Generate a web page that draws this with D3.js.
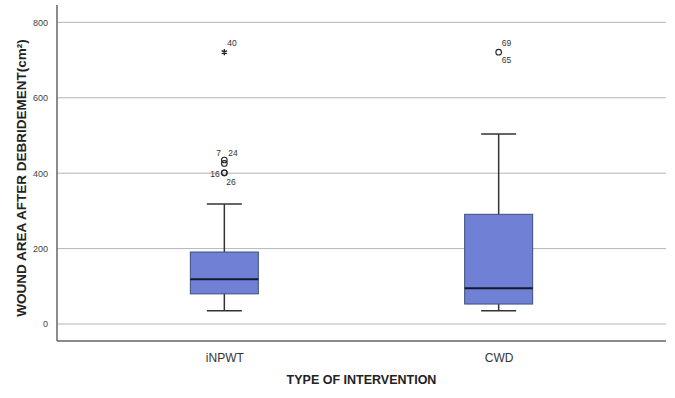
<!DOCTYPE html>
<html>
<head>
<meta charset="utf-8">
<script src="https://cdn.jsdelivr.net/npm/d3@7"></script>
<style>
  body { margin: 0; background: #fff; }
  text { font-family: "Liberation Sans", Arial, sans-serif; }
</style>
</head>
<body>
<svg id="chart" width="675" height="398"></svg>
<script>
// data
var groups = ["iNPWT", "CWD"];
var whiskerLow = [35, 35];
var q1 = [80, 53];
var median = [119, 95];
var q3 = [191, 291];
var whiskerHigh = [318, 504];

// outliers: group, value, kind
var outGroup = ["iNPWT", "iNPWT", "iNPWT", "iNPWT", "iNPWT", "CWD"];
var outValue = [721, 435, 426, 401, 401, 721];
var outKind = ["star", "circle", "circle", "circle", "circle", "circle"];
var outLabels = [
  {g: "iNPWT", v: 721, t: "40", dx: 3, dy: -6},
  {g: "iNPWT", v: 435, t: "7", dx: -8, dy: -4},
  {g: "iNPWT", v: 435, t: "24", dx: 4, dy: -4},
  {g: "iNPWT", v: 401, t: "16", dx: -14, dy: 4},
  {g: "iNPWT", v: 401, t: "26", dx: 2, dy: 12},
  {g: "CWD", v: 721, t: "69", dx: 3, dy: -6},
  {g: "CWD", v: 721, t: "65", dx: 3, dy: 11}
];
var yTicks = [0, 200, 400, 600, 800];

var svg = d3.select("#chart");
var plotL = 57, plotR = 666, plotT = 5, plotB = 341;

//scales
var x = d3.scalePoint()
    .domain(groups)
    .range([plotL, plotR])
    .padding(0.61);

var y = d3.scaleLinear()
    .domain([-45, 846])
    .range([plotB, plotT]);

var boxW = 68, capW = 35;

//grid lines
svg.append("g")
    .selectAll("line")
    .data(yTicks)
    .enter().append("line")
    .attr("x1", plotL).attr("x2", plotR)
    .attr("y1", function(d) { return y(d); })
    .attr("y2", function(d) { return y(d); })
    .attr("stroke", "#b4b4b4")
    .attr("stroke-width", 1);

//y axis
var yAxis = d3.axisLeft(y).tickValues(yTicks).tickSize(0).tickPadding(9);
var gy = svg.append("g")
    .attr("transform", "translate(" + plotL + ",0)")
    .call(yAxis);
gy.select(".domain").remove();
gy.selectAll("text")
    .style("font-size", "9px")
    .attr("fill", "#444");

//x axis
var xAxis = d3.axisBottom(x).tickSize(0).tickPadding(12);
var gx = svg.append("g")
    .attr("transform", "translate(0," + plotB + ")")
    .call(xAxis);
gx.select(".domain").remove();
gx.selectAll("text")
    .style("font-size", "12px")
    .attr("fill", "#333");

//frame lines
svg.append("line")
    .attr("x1", plotL).attr("x2", plotL)
    .attr("y1", plotT).attr("y2", plotB)
    .attr("stroke", "#666").attr("stroke-width", 1.5);
svg.append("line")
    .attr("x1", plotL).attr("x2", plotR)
    .attr("y1", plotB).attr("y2", plotB)
    .attr("stroke", "#666").attr("stroke-width", 1.5);

//boxes
var boxes = svg.append("g")
    .selectAll("g")
    .data(groups)
    .enter().append("g");

boxes.append("line")
    .attr("x1", function(d) { return x(d); })
    .attr("x2", function(d) { return x(d); })
    .attr("y1", function(d, i) { return y(whiskerHigh[i]); })
    .attr("y2", function(d, i) { return y(whiskerLow[i]); })
    .attr("stroke", "#333").attr("stroke-width", 1.5);

boxes.selectAll(".cap")
    .data(function(d, i) { return [[d, whiskerLow[i]], [d, whiskerHigh[i]]]; })
    .enter().append("line")
    .attr("class", "cap")
    .attr("x1", function(d) { return x(d[0]) - capW / 2; })
    .attr("x2", function(d) { return x(d[0]) + capW / 2; })
    .attr("y1", function(d) { return y(d[1]); })
    .attr("y2", function(d) { return y(d[1]); })
    .attr("stroke", "#333").attr("stroke-width", 1.5);

boxes.append("rect")
    .attr("x", function(d) { return x(d) - boxW / 2; })
    .attr("width", boxW)
    .attr("y", function(d, i) { return y(q3[i]); })
    .attr("height", function(d, i) { return y(q1[i]) - y(q3[i]); })
    .attr("fill", "#7080d4")
    .attr("stroke", "#3c4f7c")
    .attr("stroke-width", 1);

boxes.append("line")
    .attr("x1", function(d) { return x(d) - boxW / 2; })
    .attr("x2", function(d) { return x(d) + boxW / 2; })
    .attr("y1", function(d, i) { return y(median[i]); })
    .attr("y2", function(d, i) { return y(median[i]); })
    .attr("stroke", "#101830").attr("stroke-width", 2);

//outliers
var outs = outGroup.map(function(g, i) { return {g: g, v: outValue[i], k: outKind[i]}; });

svg.append("g")
    .selectAll("circle")
    .data(outs.filter(function(d) { return d.k === "circle"; }))
    .enter().append("circle")
    .attr("cx", function(d) { return x(d.g); })
    .attr("cy", function(d) { return y(d.v); })
    .attr("r", 2.8)
    .attr("fill", "none")
    .attr("stroke", "#222")
    .attr("stroke-width", 1.1);

svg.append("g")
    .selectAll("path")
    .data(outs.filter(function(d) { return d.k === "star"; }))
    .enter().append("path")
    .attr("transform", function(d) { return "translate(" + x(d.g) + "," + y(d.v) + ")"; })
    .attr("d", d3.symbol(d3.symbolAsterisk, 26))
    .attr("stroke", "#222")
    .attr("stroke-width", 1.3)
    .attr("fill", "none");

svg.append("g")
    .selectAll("text")
    .data(outLabels)
    .enter().append("text")
    .attr("x", function(d) { return x(d.g) + d.dx; })
    .attr("y", function(d) { return y(d.v) + d.dy; })
    .style("font-size", "8.5px")
    .attr("fill", "#333")
    .text(function(d) { return d.t; });

//axis titles
svg.append("text")
    .attr("x", (plotL + plotR) / 2)
    .attr("y", 384)
    .attr("text-anchor", "middle")
    .style("font-size", "12.5px")
    .style("font-weight", "bold")
    .attr("fill", "#222")
    .text("TYPE OF INTERVENTION");

svg.append("text")
    .attr("transform", "translate(26,178) rotate(-90)")
    .attr("text-anchor", "middle")
    .style("font-size", "13.5px")
    .style("font-weight", "bold")
    .attr("fill", "#222")
    .text("WOUND AREA AFTER DEBRIDEMENT(cm²)");
</script>
</body>
</html>
